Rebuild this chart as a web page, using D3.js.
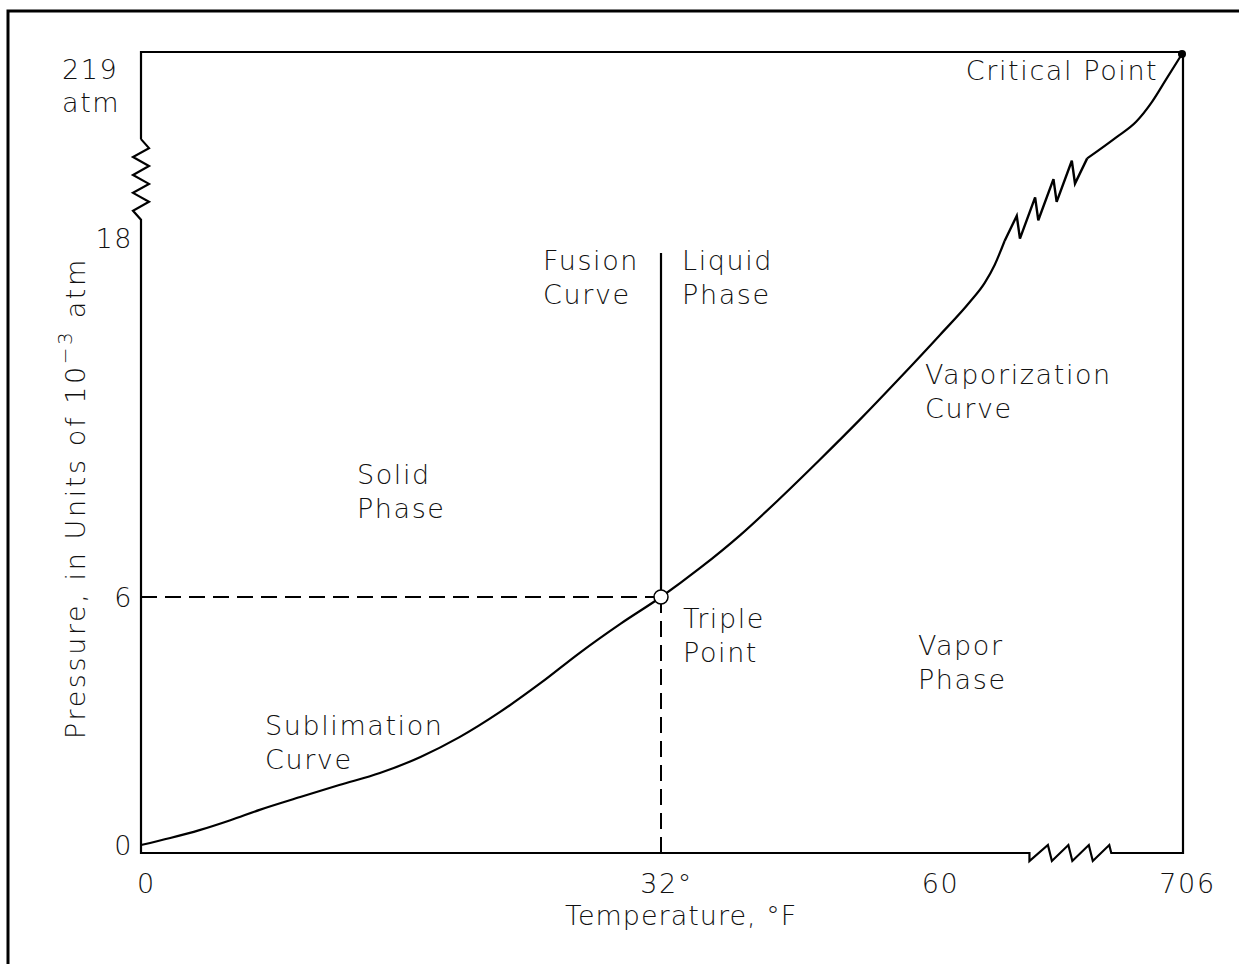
<!DOCTYPE html>
<html>
<head>
<meta charset="utf-8">
<script src="https://cdn.jsdelivr.net/npm/d3@7"></script>
<style>
  body { margin: 0; background: #fff; }
  text { font-family: "DejaVu Sans", sans-serif; font-weight: 200; fill: #111; }
</style>
</head>
<body>
<svg id="chart" width="1239" height="964"></svg>
<script>
// ---------- data ----------
const tempTicks = [0, 32, 60, 706];
const tempTickLabels = ["0", "32°", "60", "706"];
const pressureTicks = [0, 6, 18, 219];
const pressureTickLabels = ["0", "6", "18", "219"];

// sublimation + vaporization curve (below the break)
const curveLowTemp = [0, 1.8, 3.6, 5.5, 7.3, 9.8, 12.2, 14.7, 17.2, 19.6, 22.1, 24.6, 27.0, 29.5, 32, 36.0, 40.1, 44.2, 48.2, 52.3, 56.4, 73, 151, 190, 216, 242];
const curveLowPressure = [0, 0.17, 0.36, 0.60, 0.85, 1.16, 1.45, 1.74, 2.13, 2.61, 3.22, 3.92, 4.65, 5.35, 6, 6.97, 8.07, 9.31, 10.58, 11.92, 13.32, 14.76, 15.86, 16.5, 17.1, 17.9];
// vaporization curve above the break, up to the critical point
const curveHighTemp = [458, 534, 586, 628, 664, 706];
const curveHighPressure = [105, 128, 145, 167, 191, 219];

const triplePoint = { temp: 32, pressure: 6 };
const criticalPoint = { temp: 706, pressure: 219 };
const fusionTop = 17.5;            // pressure at top of fusion curve
const yAxisBreak = [38, 126];      // pressure range of the left-axis break
const xAxisBreak = [307, 521];     // temperature range of the bottom-axis break

const labels = [
  { lines: ["Critical Point"], temp: 140.7, pressure: 190.6 },
  { lines: ["Fusion", "Curve"], temp: 24.74, pressure: 16.93 },
  { lines: ["Liquid", "Phase"], temp: 34.15, pressure: 16.93 },
  { lines: ["Vaporization", "Curve"], temp: 58.98, pressure: 13.12 },
  { lines: ["Solid", "Phase"], temp: 13.29, pressure: 9.78 },
  { lines: ["Triple", "Point"], temp: 34.25, pressure: 5.25 },
  { lines: ["Vapor", "Phase"], temp: 58.26, pressure: 4.6 },
  { lines: ["Sublimation", "Curve"], temp: 7.63, pressure: 2.66 }
];

// ---------- layout ----------
const svg = d3.select("#chart");
const frame = { left: 141, right: 1183, top: 52, bottom: 853 };
const x = d3.scaleLinear().domain(tempTicks).range([141, 661, 935, 1182]);
const y = d3.scaleLinear().domain(pressureTicks).range([845, 597, 238, 54]);
const fs = 27, lineGap = 34, ls = "1.6px";

// outer border (extends past the canvas on right/bottom)
svg.append("rect").attr("x", 8).attr("y", 11).attr("width", 1300).attr("height", 1100)
  .attr("fill", "none").attr("stroke", "#000").attr("stroke-width", 3);

// zigzag helper: sawtooth between two points
function zig(x0, y0, x1, y1, n, ox, oy) {
  const pts = [[x0, y0]];
  for (let k = 1; k < 2 * n + 1; k++) {
    const t = k / (2 * n + 1);
    const s = k % 2 ? 1 : -1;
    pts.push([x0 + (x1 - x0) * t + s * ox, y0 + (y1 - y0) * t + s * oy]);
  }
  pts.push([x1, y1]);
  return pts;
}
function saw(x0, x1, yb, n, amp) {
  // horizontal sawtooth: slanted rise, steep drop
  const pts = [[x0, yb], [x0, yb + amp]];
  const w = (x1 - x0) / n;
  for (let i = 1; i <= n; i++) {
    pts.push([x0 + i * w - 2, yb - amp]);
    if (i < n) pts.push([x0 + i * w + 2, yb + amp]);
  }
  pts.push([x1, yb]);
  return pts;
}
const line = d3.line();

// frame with breaks
const yb0 = y(yAxisBreak[1]), yb1 = y(yAxisBreak[0]);
const xb0 = x(xAxisBreak[0]), xb1 = x(xAxisBreak[1]);
const framePts = [[frame.left, yb0], [frame.left, frame.top], [frame.right, frame.top], [frame.right, frame.bottom], [xb1, frame.bottom]]
  .concat(saw(xb0, xb1, frame.bottom, 4, 8).reverse().slice(1))
  .concat([[frame.left, frame.bottom], [frame.left, yb1]])
  .concat(zig(frame.left, yb1, frame.left, yb0, 4, -8, 0).slice(1));
svg.append("path").attr("d", line(framePts)).attr("fill", "none")
  .attr("stroke", "#000").attr("stroke-width", 2.2).attr("stroke-linejoin", "miter");

// dashed guide lines at triple point
svg.append("line").attr("x1", frame.left).attr("x2", x(triplePoint.temp))
  .attr("y1", y(triplePoint.pressure)).attr("y2", y(triplePoint.pressure))
  .attr("stroke", "#000").attr("stroke-width", 2).attr("stroke-dasharray", "16,8");
svg.append("line").attr("x1", x(triplePoint.temp)).attr("x2", x(triplePoint.temp))
  .attr("y1", y(triplePoint.pressure)).attr("y2", frame.bottom)
  .attr("stroke", "#000").attr("stroke-width", 2).attr("stroke-dasharray", "16,8");

// fusion curve
svg.append("line").attr("x1", x(triplePoint.temp)).attr("x2", x(triplePoint.temp))
  .attr("y1", y(triplePoint.pressure)).attr("y2", y(fusionTop))
  .attr("stroke", "#000").attr("stroke-width", 2.2);

// main curve
const curve = d3.line().x(d => x(d[0])).y(d => y(d[1])).curve(d3.curveMonotoneX);
const low = curveLowTemp.map((t, i) => [t, curveLowPressure[i]]);
const high = curveHighTemp.map((t, i) => [t, curveHighPressure[i]]);
svg.append("path").attr("d", curve(low)).attr("fill", "none").attr("stroke", "#000").attr("stroke-width", 2.2);
svg.append("path").attr("d", curve(high)).attr("fill", "none").attr("stroke", "#000").attr("stroke-width", 2.2);
const a = low[low.length - 1], b = high[0];
svg.append("path").attr("d", line(zig(x(a[0]), y(a[1]), x(b[0]), y(b[1]), 4, 3, -16)))
  .attr("fill", "none").attr("stroke", "#000").attr("stroke-width", 2.4).attr("stroke-linejoin", "miter");

// points
svg.append("circle").attr("cx", x(triplePoint.temp)).attr("cy", y(triplePoint.pressure)).attr("r", 7)
  .attr("fill", "#fff").attr("stroke", "#000").attr("stroke-width", 1.5);
svg.append("circle").attr("cx", x(criticalPoint.temp)).attr("cy", y(criticalPoint.pressure)).attr("r", 4)
  .attr("fill", "#000");

// x tick labels
const xAxis = d3.axisBottom(x).tickValues(tempTicks).tickSize(0).tickPadding(0)
  .tickFormat((d, i) => tempTickLabels[i]);
const gx = svg.append("g").attr("transform", `translate(5,${frame.bottom + 40})`).call(xAxis);
gx.select(".domain").remove();
gx.selectAll("text").attr("font-size", fs).attr("dy", 0).attr("fill", "#111")
  .style("font-family", '"DejaVu Sans", sans-serif').style("font-weight", 200).style("letter-spacing", ls);

// y tick labels
const yAxis = d3.axisLeft(y).tickValues(pressureTicks.slice(0, 3)).tickSize(0).tickPadding(0)
  .tickFormat((d, i) => pressureTickLabels[i]);
const gy = svg.append("g").attr("transform", `translate(${frame.left - 8},1)`).call(yAxis);
gy.select(".domain").remove();
gy.selectAll("text").attr("font-size", fs).attr("fill", "#111")
  .style("font-family", '"DejaVu Sans", sans-serif').style("font-weight", 200).style("letter-spacing", ls);
svg.append("text").attr("x", 62).attr("y", y(pressureTicks[3]) + 25).attr("font-size", fs)
  .style("letter-spacing", ls).text(pressureTickLabels[3]);
svg.append("text").attr("x", 62).attr("y", y(pressureTicks[3]) + 58).attr("font-size", fs)
  .style("letter-spacing", ls).text("atm");

// axis titles
svg.append("text").attr("x", 565).attr("y", frame.bottom + 72).attr("font-size", fs)
  .style("letter-spacing", "1px").text("Temperature, °F");
const yt = svg.append("text").attr("transform", `translate(85,498) rotate(-90)`)
  .attr("text-anchor", "middle").attr("font-size", fs).style("letter-spacing", "2.6px");
yt.append("tspan").text("Pressure, in Units of 10");
yt.append("tspan").attr("dy", -13).attr("font-size", 20).text("−3");
yt.append("tspan").attr("dy", 13).text(" atm");

// region labels
labels.forEach(l => {
  const t = svg.append("text").attr("font-size", fs).style("letter-spacing", ls);
  l.lines.forEach((s, i) => {
    t.append("tspan").attr("x", x(l.temp)).attr("y", y(l.pressure) + i * lineGap).text(s);
  });
});
</script>
</body>
</html>
